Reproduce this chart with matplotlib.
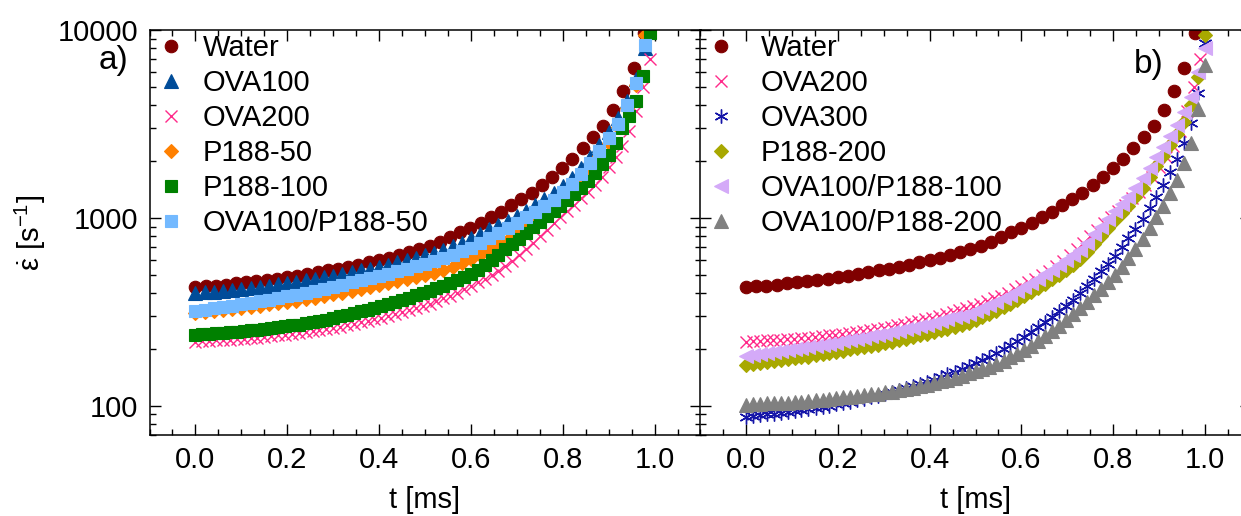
import matplotlib
matplotlib.use('Agg')
import matplotlib.pyplot as plt
from matplotlib.ticker import MultipleLocator, LogLocator, NullFormatter, FixedLocator, FuncFormatter

plt.rcParams['font.family'] = ['Liberation Sans', 'DejaVu Sans']
plt.rcParams['mathtext.fontset'] = 'custom'
plt.rcParams['mathtext.rm'] = 'Liberation Sans'
plt.rcParams['mathtext.it'] = 'Liberation Sans:italic'

# time axes [ms]
t45 = [0.000, 0.022, 0.044, 0.067, 0.089, 0.111, 0.133, 0.155, 0.178, 0.200,
       0.222, 0.244, 0.266, 0.289, 0.311, 0.333, 0.355, 0.377, 0.400, 0.422,
       0.444, 0.466, 0.488, 0.511, 0.533, 0.555, 0.577, 0.599, 0.622, 0.644,
       0.666, 0.688, 0.710, 0.733, 0.755, 0.777, 0.799, 0.821, 0.844, 0.866,
       0.888, 0.910, 0.932, 0.955, 0.977]
t50 = [0.00, 0.02, 0.04, 0.06, 0.08, 0.10, 0.12, 0.14, 0.16, 0.18,
       0.20, 0.22, 0.24, 0.26, 0.28, 0.30, 0.32, 0.34, 0.36, 0.38,
       0.40, 0.42, 0.44, 0.46, 0.48, 0.50, 0.52, 0.54, 0.56, 0.58,
       0.60, 0.62, 0.64, 0.66, 0.68, 0.70, 0.72, 0.74, 0.76, 0.78,
       0.80, 0.82, 0.84, 0.86, 0.88, 0.90, 0.92, 0.94, 0.96, 0.98]
t67a = [0.000, 0.015, 0.030, 0.045, 0.060, 0.075, 0.090, 0.105, 0.120, 0.135,
        0.150, 0.165, 0.180, 0.195, 0.210, 0.225, 0.240, 0.255, 0.270, 0.285,
        0.300, 0.315, 0.330, 0.345, 0.360, 0.375, 0.390, 0.405, 0.420, 0.435,
        0.450, 0.465, 0.480, 0.495, 0.510, 0.525, 0.540, 0.555, 0.570, 0.585,
        0.600, 0.615, 0.630, 0.645, 0.660, 0.675, 0.690, 0.705, 0.720, 0.735,
        0.750, 0.765, 0.780, 0.795, 0.810, 0.825, 0.840, 0.855, 0.870, 0.885,
        0.900, 0.915, 0.930, 0.945, 0.960, 0.975, 0.990]
t67b = [0.000, 0.015, 0.030, 0.045, 0.061, 0.076, 0.091, 0.106, 0.121, 0.136,
        0.152, 0.167, 0.182, 0.197, 0.212, 0.227, 0.242, 0.258, 0.273, 0.288,
        0.303, 0.318, 0.333, 0.348, 0.364, 0.379, 0.394, 0.409, 0.424, 0.439,
        0.455, 0.470, 0.485, 0.500, 0.515, 0.530, 0.545, 0.561, 0.576, 0.591,
        0.606, 0.621, 0.636, 0.652, 0.667, 0.682, 0.697, 0.712, 0.727, 0.742,
        0.758, 0.773, 0.788, 0.803, 0.818, 0.833, 0.848, 0.864, 0.879, 0.894,
        0.909, 0.924, 0.939, 0.955, 0.970, 0.985, 1.000]

# strain rate [1/s]
water = [428, 432, 437, 442, 448, 454, 461, 468, 476, 485,
         494, 504, 515, 526, 538, 551, 565, 580, 595, 612,
         632, 655, 680, 710, 748, 789, 839, 888, 945, 1008,
         1080, 1172, 1262, 1365, 1498, 1659, 1852, 2060, 2348, 2687,
         3086, 3753, 4738, 6256, 9600]
ova100 = [398, 402, 406, 410, 415, 420, 425, 431, 437, 444,
          451, 459, 467, 475, 484, 494, 504, 515, 526, 538,
          551, 565, 580, 596, 613, 632, 652, 675, 705, 740,
          780, 825, 870, 915, 965, 1025, 1090, 1165, 1255, 1360,
          1485, 1640, 1850, 2120, 2450, 2860, 3400, 4200, 5500, 8000]
ova200 = [220, 221, 222, 223, 224, 225, 226, 228, 229, 231,
          233, 235, 237, 239, 241, 244, 247, 250, 253, 256,
          260, 264, 268, 273, 278, 283, 289, 295, 301, 308,
          315, 323, 331, 340, 350, 361, 373, 386, 401, 418,
          436, 455, 475, 497, 522, 552, 590, 635, 685, 740,
          800, 865, 935, 1010, 1090, 1175, 1270, 1380, 1500, 1660,
          1870, 2110, 2420, 2900, 3700, 5000, 7000]
p188_50 = [312, 316, 320, 324, 328, 333, 337, 342, 347, 352,
           357, 363, 369, 376, 384, 392, 400, 409, 418, 428,
           438, 449, 460, 472, 485, 498, 512, 528, 548, 574,
           603, 636, 673, 715, 762, 815, 875, 945, 1025, 1115,
           1225, 1380, 1570, 1820, 2130, 2520, 3050, 3850, 5100, 9400]
p188_100 = [239, 240, 241, 243, 244, 246, 248, 250, 252, 254,
            256, 259, 262, 265, 268, 271, 275, 279, 283, 288,
            293, 299, 305, 311, 318, 325, 332, 340, 348, 357,
            366, 376, 387, 398, 410, 423, 437, 452, 468, 486,
            506, 528, 560, 595, 635, 680, 725, 775, 830, 890,
            955, 1020, 1090, 1160, 1240, 1340, 1450, 1580, 1740, 1930,
            2150, 2520, 3000, 3500, 4200, 5700, 9600]
ova100_p188_50 = [320, 325, 330, 336, 342, 348, 354, 361, 368, 375,
                  383, 391, 400, 410, 420, 431, 442, 454, 466, 479,
                  492, 506, 521, 537, 553, 568, 588, 610, 635, 663,
                  695, 735, 780, 830, 885, 945, 1010, 1080, 1160, 1250,
                  1370, 1520, 1720, 1970, 2270, 2650, 3180, 4000, 5200, 8300]
ova300 = [87, 88, 89, 90, 91, 92, 93, 94, 95, 96,
          97, 99, 100, 102, 103, 105, 107, 109, 111, 113,
          116, 118, 121, 124, 127, 131, 134, 138, 142, 147,
          152, 157, 163, 169, 176, 183, 191, 200, 210, 221,
          233, 247, 262, 279, 298, 318, 341, 368, 400, 435,
          475, 520, 570, 630, 700, 780, 875, 990, 1130, 1300,
          1500, 1750, 2050, 2500, 3200, 4600, 8500]
p188_200 = [165, 167, 169, 171, 173, 175, 177, 179, 181, 183,
            186, 188, 191, 194, 197, 200, 203, 206, 209, 212,
            216, 220, 224, 228, 232, 237, 242, 247, 252, 258,
            264, 270, 277, 286, 296, 307, 320, 334, 349, 366,
            384, 403, 424, 447, 472, 500, 530, 565, 605, 660,
            730, 800, 880, 970, 1060, 1160, 1290, 1450, 1650, 1880,
            2130, 2450, 2800, 3250, 4000, 5600, 9400]
ova100_p188_100 = [185, 187, 189, 192, 194, 196, 198, 200, 203, 205,
                   208, 211, 214, 217, 221, 224, 227, 231, 234, 237,
                   242, 246, 251, 255, 260, 265, 271, 277, 282, 289,
                   296, 302, 310, 320, 332, 344, 358, 374, 391, 410,
                   430, 451, 475, 501, 529, 560, 594, 633, 678, 739,
                   818, 896, 986, 1086, 1187, 1299, 1445, 1624, 1848, 2106,
                   2386, 2744, 3136, 3640, 4400, 6000, 8000]
ova100_p188_200 = [101, 102, 102, 103, 103, 104, 104, 105, 105, 106,
                   107, 108, 109, 110, 111, 112, 113, 114, 115, 116,
                   118, 119, 121, 123, 125, 127, 129, 132, 135, 138,
                   141, 145, 149, 153, 157, 162, 168, 174, 181, 189,
                   198, 209, 221, 235, 250, 267, 286, 307, 330, 357,
                   387, 420, 457, 500, 550, 610, 680, 770, 880, 1010,
                   1160, 1360, 1600, 1950, 2500, 3800, 6500]

W, H = 1241, 516
fig = plt.figure(figsize=(W / 100, H / 100), dpi=100)
ax1 = fig.add_axes([149.5 / W, 1 - 435 / H, 551 / W, 405 / H])
ax2 = fig.add_axes([700 / W, 1 - 435 / H, 551 / W, 405 / H])

# panel a
ax1.plot(t45, water, 'o', color='#800000', ms=9, mew=0.8, label='Water')
ax1.plot(t50, ova100, '^', color='#004C99', ms=9.5, mew=0.8, label='OVA100')
ax1.plot(t67a, ova200, 'x', color='#FF2A8A', ms=8.5, mew=1, label='OVA200')
ax1.plot(t50, p188_50, 'D', color='#FF8000', ms=7, mew=0.8, label='P188-50')
ax1.plot(t67a, p188_100, 's', color='#008000', ms=8, mew=0.8, label='P188-100')
ax1.plot(t50, ova100_p188_50, 's', color='#73B9FF', ms=8, mew=0.8, label='OVA100/P188-50')

# panel b
ax2.plot(t45, water, 'o', color='#800000', ms=9, mew=0.8, label='Water')
ax2.plot(t67a, ova200, 'x', color='#FF2A8A', ms=8.5, mew=1, label='OVA200')
ax2.plot(t67b, ova300, marker=(6, 2, 0), ls='none', color='#1515A8', ms=10, mew=1, label='OVA300')
ax2.plot(t67b, p188_200, 'D', color='#A8A800', ms=7, mew=0.8, label='P188-200')
ax2.plot(t67b, ova100_p188_100, '<', color='#D4AAF8', ms=9.5, mew=0.8, label='OVA100/P188-100')
ax2.plot(t67b, ova100_p188_200, '^', color='#808080', ms=9.5, mew=0.8, label='OVA100/P188-200')

for ax in (ax1, ax2):
    ax.set_yscale('log')
    ax.set_xlim(-0.1, 1.1)
    ax.set_ylim(70, 10000)
    ax.xaxis.set_major_locator(MultipleLocator(0.2))
    ax.xaxis.set_minor_locator(MultipleLocator(0.05))
    ax.yaxis.set_major_locator(FixedLocator([100, 1000, 10000]))
    ax.yaxis.set_major_formatter(FuncFormatter(lambda v, p: f'{v:g}'))
    ax.yaxis.set_minor_locator(LogLocator(base=10, subs=range(2, 10)))
    ax.yaxis.set_minor_formatter(NullFormatter())
    ax.tick_params(which='both', direction='in', top=True, right=True, width=1, labelsize=21)
    ax.tick_params(which='major', length=8, pad=8)
    ax.tick_params(which='minor', length=4)
    for s in ax.spines.values():
        s.set_linewidth(1.1)
    ax.set_xlabel('t [ms]', fontsize=21)
    ax.xaxis.set_label_coords(0.5, -0.125)

ax2.tick_params(labelleft=False)
fig.text(30 / W, 1 - 233 / H, r'$\dot{\mathrm{\varepsilon}}$ [s$^{\mathrm{-1}}$]', fontsize=21,
         rotation=90, ha='center', va='center')

leg_kw = dict(loc='upper left', frameon=False, fontsize=21, borderaxespad=0, borderpad=0,
              labelspacing=0.24, numpoints=1)
ax1.legend(bbox_to_anchor=(0.017, 0.99), handlelength=0.8, handletextpad=0.7, **leg_kw)
ax2.legend(bbox_to_anchor=(0.015, 0.99), handlelength=0.86, handletextpad=0.95, **leg_kw)

fig.text(113 / W, 1 - 60 / H, 'a)', fontsize=24, ha='center', va='center')
fig.text(1149 / W, 1 - 64 / H, 'b)', fontsize=24, ha='center', va='center')

fig.savefig('out.png', dpi=100)
